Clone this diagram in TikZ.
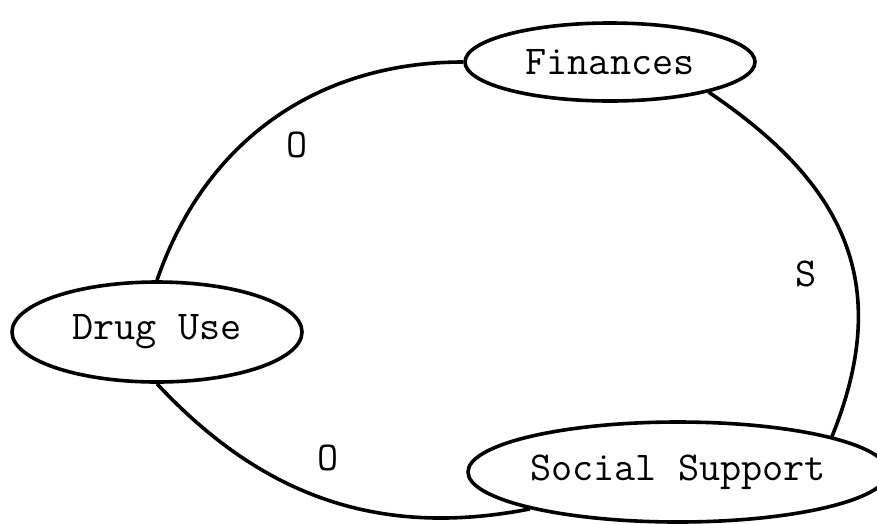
\documentclass[tikz,border=0pt]{standalone}
\usepackage{fontspec}
\usetikzlibrary{shapes.geometric}
\tikzset{
  concept/.style={ellipse, draw, line width=3.6pt, inner sep=0pt, font=\ttfamily\fontsize{41}{44}\selectfont},
  link/.style={line width=3.6pt},
  lbl/.style={font=\ttfamily\fontsize{41}{44}\selectfont, inner sep=0pt}
}
\begin{document}
\begin{tikzpicture}[x=1pt,y=-1pt]
\useasboundingbox (0,0) rectangle (877,523);
\node[concept, minimum width=290pt, minimum height=78pt] (F) at (610,62) {Finances};
\node[concept, minimum width=290pt, minimum height=100pt] (D) at (157,332) {Drug Use};
\node[concept, minimum width=420pt, minimum height=100pt] (S) at (678,472) {Social Support};
\draw[link] (F.west) to[out=180,in=71] (D.north);
\draw[link] (F.-17) to[out=-34,in=68,looseness=1.15] (S.13);
\draw[link] (D.south) to[out=-47,in=191] (S.194);
\node[lbl] (o1) at (297,145) {O};
\node[lbl] (s1) at (806,274) {S};
\node[lbl] (o2) at (328,458) {O};
\end{tikzpicture}
\end{document}
